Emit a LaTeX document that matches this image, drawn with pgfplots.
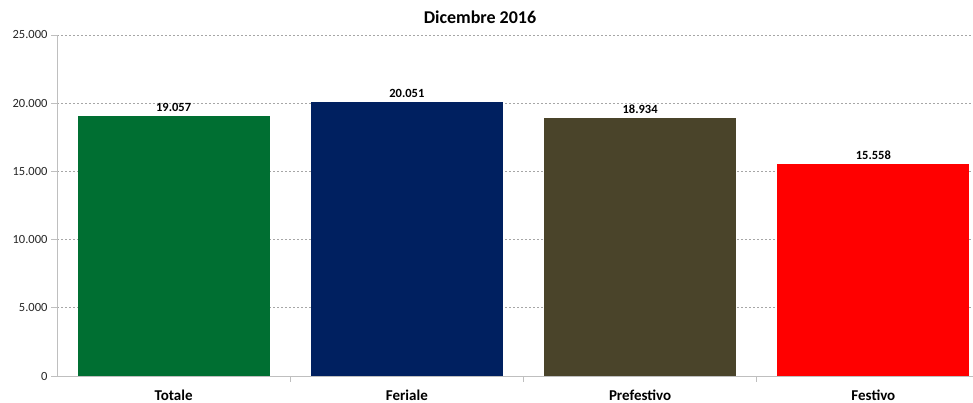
\documentclass[border=0pt]{standalone}
\usepackage{fontspec}
\setmainfont{Carlito}
\usepackage{pgfplots}
\pgfplotsset{compat=1.18}
\definecolor{cTot}{HTML}{006F32}
\definecolor{cFer}{HTML}{002060}
\definecolor{cPre}{HTML}{4A442A}
\definecolor{cFes}{HTML}{FF0000}
\definecolor{axgray}{HTML}{BFBFBF}
\definecolor{grgray}{HTML}{A6A6A6}

\begin{document}
\begin{tikzpicture}
\path[use as bounding box] (0,0) rectangle (973pt,403pt);
\begin{axis}[
  at={(57pt,27pt)}, anchor=south west,
  scale only axis, width=933pt, height=341pt,
  ybar, bar width=0.823, bar shift=0pt,
  xmin=-0.5, xmax=3.5, ymin=0, ymax=25000,
  axis x line*=bottom, axis y line*=left,
  axis line style={draw=axgray, line width=0.8pt, -},
  tick align=outside, major tick length=6pt,
  every tick/.style={draw=axgray, line width=0.8pt},
  ytick={0,5000,...,25000},
  scaled y ticks=false,
  /pgf/number format/.cd, 1000 sep={.}, assume math mode=true, /pgfplots/.cd,
  y tick label style={font=\fontsize{12.5}{14}\selectfont, text=black!85},
  xtick={0.5,1.5,2.5}, xticklabels={},
  extra x ticks={0,1,2,3},
  extra x tick labels={Totale,Feriale,Prefestivo,Festivo},
  extra x tick style={major tick length=0pt,
    tick label style={font=\bfseries\fontsize{15}{17}\selectfont, yshift=-10pt}},
  ymajorgrids,
  grid style={draw=grgray, dash pattern=on 2pt off 2pt, line width=0.6pt},
  title={Dicembre 2016},
  title style={font=\bfseries\fontsize{18}{21}\selectfont,
    at={(rel axis cs:0.4534,1)}, anchor=center, yshift=12pt},
  nodes near coords,
  every node near coord/.append style={font=\bfseries\fontsize{12.5}{14}\selectfont, yshift=1pt},
]
\addplot[fill=cTot, draw=none] coordinates {(0,19057)};
\addplot[fill=cFer, draw=none] coordinates {(1,20051)};
\addplot[fill=cPre, draw=none] coordinates {(2,18934)};
\addplot[fill=cFes, draw=none] coordinates {(3,15558)};
\end{axis}
\end{tikzpicture}
\end{document}
